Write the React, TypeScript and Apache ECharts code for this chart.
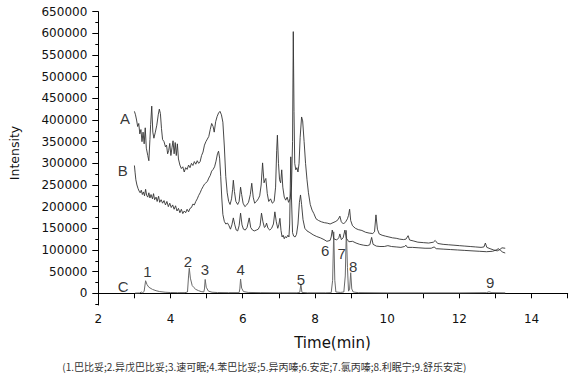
import React, { useEffect, useRef } from "react";
import * as echarts from "echarts";

// Trace A (upper sample chromatogram): [time (min), intensity]
const traceA: [number, number][] = [
  [3.0, 420000], [3.03, 412000], [3.06, 400000], [3.09, 385000], [3.12, 392000], [3.15, 368000], [3.18, 378000],
  [3.21, 350000], [3.24, 372000], [3.27, 345000], [3.3, 382000], [3.33, 335000], [3.37, 318000], [3.4, 306000],
  [3.43, 355000], [3.45, 390000], [3.48, 432000], [3.51, 372000], [3.54, 358000], [3.58, 372000], [3.62, 388000],
  [3.66, 412000], [3.69, 425000], [3.72, 415000], [3.75, 380000], [3.78, 355000], [3.82, 350000], [3.86, 338000],
  [3.89, 342000], [3.92, 322000], [3.95, 330000], [3.98, 346000], [4.01, 318000], [4.04, 336000], [4.07, 352000],
  [4.1, 322000], [4.13, 348000], [4.16, 318000], [4.19, 345000], [4.22, 310000], [4.26, 296000], [4.3, 288000],
  [4.34, 292000], [4.38, 280000], [4.42, 290000], [4.46, 286000], [4.5, 296000], [4.54, 290000], [4.58, 300000],
  [4.62, 295000], [4.66, 304000], [4.7, 298000], [4.74, 306000], [4.78, 300000], [4.82, 304000], [4.86, 318000],
  [4.9, 326000], [4.94, 342000], [4.98, 350000], [5.02, 356000], [5.06, 362000], [5.1, 378000], [5.14, 392000],
  [5.18, 385000], [5.21, 372000], [5.25, 396000], [5.29, 408000], [5.33, 416000], [5.37, 420000], [5.41, 412000],
  [5.45, 395000], [5.49, 340000], [5.53, 270000], [5.57, 232000], [5.61, 212000], [5.65, 205000], [5.69, 218000],
  [5.72, 240000], [5.74, 261000], [5.77, 235000], [5.81, 212000], [5.86, 205000], [5.9, 212000], [5.94, 245000],
  [5.97, 228000], [6.01, 208000], [6.06, 200000], [6.11, 204000], [6.16, 210000], [6.21, 228000], [6.25, 254000],
  [6.29, 222000], [6.33, 208000], [6.38, 212000], [6.43, 218000], [6.47, 225000], [6.51, 250000], [6.55, 301000],
  [6.59, 255000], [6.62, 262000], [6.64, 265000], [6.68, 230000], [6.72, 212000], [6.77, 218000], [6.82, 208000],
  [6.87, 212000], [6.91, 245000], [6.94, 330000], [6.96, 365000], [6.99, 300000], [7.02, 262000], [7.05, 255000],
  [7.08, 285000], [7.11, 245000], [7.15, 222000], [7.19, 215000], [7.23, 222000], [7.27, 210000], [7.31, 218000],
  [7.35, 245000], [7.38, 350000], [7.4, 604000], [7.42, 420000], [7.44, 300000], [7.47, 285000], [7.5, 290000],
  [7.53, 280000], [7.56, 300000], [7.59, 360000], [7.63, 407000], [7.66, 398000], [7.7, 350000], [7.74, 300000],
  [7.78, 262000], [7.82, 232000], [7.87, 205000], [7.92, 192000], [7.97, 184000], [8.03, 172000], [8.1, 168000],
  [8.18, 165000], [8.26, 163000], [8.34, 162000], [8.42, 160000], [8.5, 163000], [8.58, 166000], [8.64, 170000],
  [8.69, 178000], [8.73, 165000], [8.79, 160000], [8.85, 165000], [8.9, 172000], [8.93, 180000], [8.96, 194000],
  [8.99, 168000], [9.04, 156000], [9.12, 150000], [9.2, 147000], [9.3, 145000], [9.4, 141000], [9.5, 139000],
  [9.6, 138000], [9.65, 142000], [9.69, 181000], [9.73, 148000], [9.78, 137000], [9.86, 134000], [9.95, 132000],
  [10.05, 130000], [10.15, 128000], [10.25, 127000], [10.35, 125000], [10.45, 124000], [10.52, 125000],
  [10.58, 133000], [10.62, 123000], [10.72, 121000], [10.85, 118000], [11.0, 117000], [11.15, 116000],
  [11.28, 118000], [11.33, 122000], [11.4, 115000], [11.55, 113000], [11.7, 112000], [11.85, 111000],
  [12.0, 110000], [12.15, 109000], [12.3, 108000], [12.45, 107000], [12.6, 106000], [12.68, 107000],
  [12.72, 116000], [12.76, 106000], [12.85, 103000], [12.95, 100000], [13.05, 98000], [13.12, 101000],
  [13.18, 105000], [13.27, 104000],
];

// Trace B (middle sample chromatogram)
const traceB: [number, number][] = [
  [3.0, 295000], [3.02, 278000], [3.04, 262000], [3.07, 250000], [3.1, 242000], [3.13, 236000], [3.16, 232000],
  [3.19, 238000], [3.22, 228000], [3.25, 234000], [3.28, 225000], [3.31, 240000], [3.34, 226000], [3.37, 222000],
  [3.4, 232000], [3.43, 220000], [3.46, 228000], [3.5, 218000], [3.53, 230000], [3.56, 216000], [3.6, 222000],
  [3.63, 212000], [3.67, 224000], [3.7, 210000], [3.74, 216000], [3.78, 208000], [3.82, 214000], [3.86, 204000],
  [3.9, 212000], [3.94, 200000], [3.98, 208000], [4.02, 198000], [4.06, 204000], [4.1, 194000], [4.14, 202000],
  [4.18, 190000], [4.22, 196000], [4.26, 186000], [4.3, 194000], [4.34, 184000], [4.38, 190000], [4.42, 186000],
  [4.46, 194000], [4.5, 188000], [4.54, 196000], [4.58, 198000], [4.62, 206000], [4.66, 204000], [4.7, 212000],
  [4.74, 218000], [4.78, 226000], [4.82, 232000], [4.86, 240000], [4.9, 246000], [4.94, 252000], [4.98, 255000],
  [5.02, 258000], [5.06, 266000], [5.1, 272000], [5.14, 282000], [5.18, 286000], [5.22, 292000], [5.26, 305000],
  [5.3, 322000], [5.33, 328000], [5.36, 312000], [5.39, 270000], [5.42, 220000], [5.45, 182000], [5.49, 166000],
  [5.53, 160000], [5.58, 162000], [5.62, 156000], [5.66, 148000], [5.7, 158000], [5.74, 174000], [5.78, 158000],
  [5.82, 146000], [5.86, 144000], [5.9, 156000], [5.94, 185000], [5.98, 158000], [6.02, 148000], [6.07, 146000],
  [6.12, 152000], [6.18, 174000], [6.22, 152000], [6.27, 146000], [6.32, 144000], [6.38, 146000], [6.43, 148000],
  [6.48, 156000], [6.52, 185000], [6.56, 165000], [6.6, 152000], [6.63, 154000], [6.66, 162000], [6.7, 150000],
  [6.75, 146000], [6.8, 150000], [6.85, 160000], [6.89, 188000], [6.93, 165000], [6.97, 150000], [7.0, 158000],
  [7.03, 173000], [7.06, 145000], [7.09, 130000], [7.12, 134000], [7.15, 126000], [7.18, 131000], [7.21, 128000],
  [7.25, 134000], [7.28, 130000], [7.3, 160000], [7.33, 315000], [7.35, 220000], [7.38, 140000], [7.41, 132000],
  [7.45, 130000], [7.49, 136000], [7.53, 160000], [7.57, 210000], [7.6, 227000], [7.63, 205000], [7.67, 170000],
  [7.72, 150000], [7.78, 144000], [7.86, 140000], [7.95, 135000], [8.05, 131000], [8.15, 128000], [8.25, 124000],
  [8.33, 120000], [8.42, 122000], [8.45, 130000], [8.48, 146000], [8.52, 126000], [8.6, 123000], [8.66, 128000],
  [8.69, 137000], [8.73, 124000], [8.78, 128000], [8.83, 146000], [8.87, 127000], [8.94, 119000], [9.04, 120000],
  [9.14, 116000], [9.24, 113000], [9.35, 111000], [9.45, 110000], [9.52, 112000], [9.57, 129000], [9.61, 113000],
  [9.7, 109000], [9.8, 108000], [9.92, 108000], [10.02, 110000], [10.12, 108000], [10.25, 107000],
  [10.38, 106000], [10.48, 108000], [10.52, 111000], [10.56, 106000], [10.7, 106000], [10.88, 105000],
  [11.05, 104000], [11.22, 104000], [11.3, 107000], [11.36, 103000], [11.55, 102000], [11.75, 101000],
  [11.95, 100000], [12.15, 99000], [12.35, 98000], [12.55, 97000], [12.75, 96000], [12.92, 97000],
  [13.02, 100000], [13.08, 103000], [13.14, 99000], [13.2, 95000], [13.27, 93000],
];

// Trace C (standard mixture chromatogram)
const traceC: [number, number][] = [
  [3.02, 500], [3.15, 800], [3.19, 3000], [3.23, 900], [3.27, 5000], [3.31, 29000], [3.35, 20000], [3.4, 14000],
  [3.5, 9000], [3.6, 6000], [3.7, 4000], [3.85, 2500], [4.0, 1800], [4.2, 1500], [4.4, 1500], [4.47, 3000],
  [4.5, 40000], [4.52, 58000], [4.55, 35000], [4.6, 18000], [4.65, 13000], [4.7, 9000], [4.78, 6000],
  [4.85, 4000], [4.92, 3000], [4.94, 10000], [4.96, 32000], [4.99, 14000], [5.05, 5000], [5.15, 2500],
  [5.3, 1800], [5.6, 1500], [5.9, 1500], [5.92, 10000], [5.94, 33000], [5.97, 12000], [6.02, 4000],
  [6.15, 2000], [6.5, 1500], [7.0, 1200], [7.5, 1200], [7.58, 2000], [7.61, 21000], [7.64, 2000], [7.8, 1200],
  [8.3, 1200], [8.45, 1500], [8.49, 30000], [8.52, 142000], [8.55, 30000], [8.58, 3000], [8.7, 2000],
  [8.8, 3000], [8.84, 40000], [8.87, 145000], [8.9, 60000], [8.93, 5000], [8.96, 10000], [8.99, 47500],
  [9.02, 10000], [9.06, 3000], [9.2, 1500], [10.0, 1000], [11.0, 1000], [12.0, 1000], [12.75, 1500],
  [12.82, 3500], [12.9, 1500], [13.27, 1000],
];

// Annotations: [time, intensity, text]
const annotations: [number, number, string][] = [
  [2.74, 404600, "A"], [2.68, 284600, "B"], [2.69, 15200, "C"],
  [3.36, 49900, "1"], [4.48, 72900, "2"], [4.95, 55400, "3"], [5.94, 53800, "4"], [7.61, 32300, "5"],
  [8.28, 99900, "6"], [8.74, 93000, "7"], [9.06, 61400, "8"], [12.85, 23800, "9"],
];

const xLabelValues = [2, 4, 6, 8, 10, 12, 14];
const xTickValues = [2, 3, 4, 5, 6, 7, 8, 9, 10, 11, 12, 13, 14, 15];
const yLabelValues = [0, 50000, 100000, 150000, 200000, 250000, 300000, 350000, 400000, 450000, 500000, 550000, 600000, 650000];
const yMinorTickValues = [-25000, 25000, 75000, 125000, 175000, 225000, 275000, 325000, 375000, 425000, 475000, 525000, 575000, 625000];

const footnote = "(1.巴比妥;2.异戊巴比妥;3.速可眠;4.苯巴比妥;5.异丙嗪;6.安定;7.氯丙嗪;8.利眠宁;9.舒乐安定)";

export default function App() {
  const ref = useRef<HTMLDivElement>(null);
  useEffect(() => {
    const chart = echarts.init(ref.current!, null, { renderer: "svg" });
    const axisFont = { fontFamily: "DejaVu Sans", fontSize: 12, color: "#111" };
    chart.setOption({
      animation: false,
      backgroundColor: "#fff",
      grid: { left: 98.3, right: 2.3, top: 11.7, bottom: 71, containLabel: false },
      xAxis: {
        type: "value",
        min: 2,
        max: 15,
        interval: 1,
        axisLine: { show: true, lineStyle: { color: "#000", width: 1 } },
        axisTick: { show: true, length: 5, inside: false, customValues: xTickValues, lineStyle: { color: "#000" } },
        axisLabel: { ...axisFont, margin: 8, customValues: xLabelValues, formatter: (v: number) => String(v) },
        splitLine: { show: false },
      },
      yAxis: [
        {
          type: "value",
          min: -27000,
          max: 650000,
          axisLine: { show: true, lineStyle: { color: "#000", width: 1 } },
          axisTick: { show: true, length: 6, customValues: yLabelValues, lineStyle: { color: "#000" } },
          axisLabel: { ...axisFont, margin: 11, customValues: yLabelValues, formatter: (v: number) => String(v) },
          splitLine: { show: false },
        },
        {
          type: "value",
          min: -27000,
          max: 650000,
          position: "left",
          axisLine: { show: false },
          axisTick: { show: true, length: 3, customValues: yMinorTickValues, lineStyle: { color: "#000" } },
          axisLabel: { show: false },
          splitLine: { show: false },
        },
      ],
      series: [
        {
          type: "line",
          data: traceC,
          showSymbol: false,
          symbol: "none",
          lineStyle: { color: "#6a6a6a", width: 1 },
          z: 2,
        },
        {
          type: "line",
          data: traceB,
          showSymbol: false,
          symbol: "none",
          lineStyle: { color: "#333", width: 0.9 },
          z: 3,
        },
        {
          type: "line",
          data: traceA,
          showSymbol: false,
          symbol: "none",
          lineStyle: { color: "#333", width: 0.9 },
          z: 4,
        },
        {
          type: "scatter",
          data: annotations,
          symbolSize: 2,
          itemStyle: { color: "rgba(0,0,0,0)" },
          z: 5,
          label: {
            show: true,
            position: "inside",
            formatter: (p: any) => p.data[2],
            fontFamily: "Liberation Sans",
            fontSize: 15,
            color: "#000",
            textBorderWidth: 0,
            textBorderColor: "transparent",
          },
        },
      ],
      graphic: [
        {
          type: "text",
          x: 14,
          y: 153,
          rotation: Math.PI / 2,
          style: {
            text: "Intensity",
            font: "12.5px 'DejaVu Sans'",
            fill: "#111",
            textAlign: "center",
            textVerticalAlign: "middle",
          },
        },
        {
          type: "text",
          x: 332.5,
          y: 342.5,
          style: {
            text: "Time(min)",
            font: "15px 'DejaVu Sans'",
            fill: "#111",
            textAlign: "center",
            textVerticalAlign: "middle",
          },
        },
        {
          type: "text",
          x: 62.3,
          y: 366,
          style: {
            text: footnote,
            font: "10px 'Noto Sans CJK SC'",
            fill: "#333",
            textAlign: "left",
            textVerticalAlign: "middle",
          },
        },
      ],
    });
    return () => chart.dispose();
  }, []);
  return (
    <div
      ref={ref}
      style={{ position: "fixed", left: 0, top: 0, width: 570, height: 376, background: "#fff" }}
    />
  );
}
